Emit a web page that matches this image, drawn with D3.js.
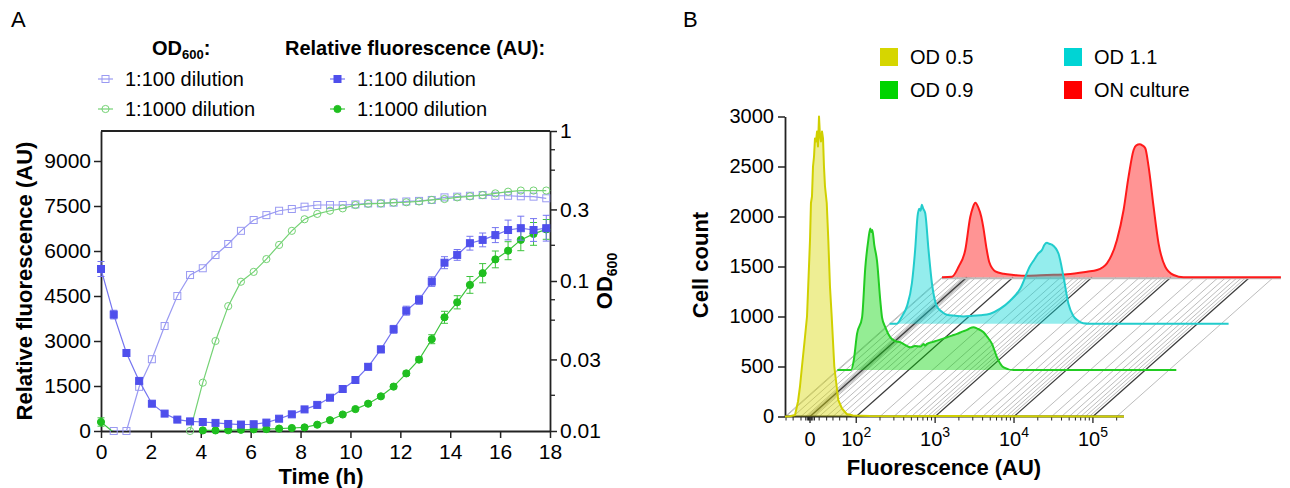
<!DOCTYPE html>
<html><head><meta charset="utf-8">
<script src="https://cdn.jsdelivr.net/npm/d3@7"></script>
<style>
body{margin:0;background:#fff}
svg text{font-family:"Liberation Sans",Arial,sans-serif;fill:#000}
</style>
</head><body>
<svg id="c" width="1290" height="488"></svg>
<script>
// ---------------- Panel A data ----------------
const timeH = [0,0.51,1.02,1.53,2.04,2.55,3.06,3.57,4.08,4.59,5.1,5.61,6.12,6.63,7.14,7.65,8.16,8.67,9.18,9.69,10.2,10.71,11.22,11.73,12.24,12.75,13.26,13.77,14.28,14.79,15.3,15.81,16.32,16.83,17.34,17.85];
const fluor100 = [5400,3880,2600,1670,910,580,380,320,300,270,235,215,225,280,410,555,720,870,1110,1400,1700,2140,2720,3390,4010,4370,4980,5610,5870,6260,6370,6530,6700,6760,6700,6760];
const fluor100Err = [250,145,60,50,50,40,40,40,40,40,40,40,40,40,40,50,50,60,60,70,80,100,110,130,150,150,160,200,180,230,230,250,330,400,380,430];
const fluor1000 = [300,-50,null,null,null,null,null,null,20,20,25,40,55,65,80,100,120,210,360,550,730,910,1155,1480,1920,2380,3060,3790,4290,4870,5260,5720,6010,6370,6570,6720];
const fluor1000Err = [140,0,null,null,null,null,null,null,20,20,20,20,20,20,20,20,30,30,40,40,40,50,50,60,70,90,150,200,220,280,320,280,300,360,380,330];
const od100 = [null,0.01,0.01,0.0197,0.0301,0.0501,0.0794,0.1096,0.1216,0.149,0.1765,0.216,0.255,0.275,0.294,0.302,0.313,0.321,0.321,0.321,0.324,0.329,0.329,0.333,0.339,0.342,0.347,0.361,0.365,0.37,0.374,0.37,0.37,0.367,0.365,0.356];
const od1000 = [null,null,null,null,null,null,null,0.01,0.021,0.0398,0.068,0.0989,0.115,0.14,0.174,0.216,0.258,0.28,0.294,0.305,0.321,0.327,0.329,0.333,0.335,0.339,0.347,0.352,0.361,0.367,0.374,0.384,0.394,0.401,0.401,0.401];
const timeTicks = [0,2,4,6,8,10,12,14,16,18];
const fluorTicks = [0,1500,3000,4500,6000,7500,9000];
const odTicks = [0.01,0.03,0.1,0.3,1];
const odMinorTicks = [0.0173,0.0548,0.075,0.173,0.548,0.75];
const legendA = ["1:100 dilution","1:1000 dilution"];

// ---------------- Panel B data (x in display decades: "0"=1.414, 10^2=2 ...) ----------------
const histOD05 = [[1.097,0],[1.160,3],[1.224,15],[1.262,150],[1.287,300],[1.312,500],[1.351,800],[1.376,1000],[1.401,1500],[1.414,1765],[1.426,2135],[1.439,2200],[1.452,2500],[1.465,2600],[1.477,2780],[1.490,2750],[1.503,2850],[1.515,2700],[1.528,3000],[1.541,2800],[1.553,2750],[1.566,2850],[1.579,2780],[1.591,2500],[1.604,2300],[1.626,2135],[1.646,1765],[1.667,1300],[1.689,1000],[1.722,500],[1.772,165],[1.819,80],[1.879,25],[1.959,10],[2.174,5],[2.554,3],[3.188,5],[3.822,3],[5.394,0]];
const histOD09 = [[1.097,0],[1.271,0],[1.305,95],[1.347,362],[1.411,528],[1.452,1028],[1.490,1300],[1.515,1416],[1.530,1380],[1.541,1400],[1.566,1250],[1.600,1095],[1.642,695],[1.664,528],[1.706,428],[1.769,328],[1.832,290],[1.896,278],[1.96,250],[2.022,228],[2.08,240],[2.149,235],[2.19,260],[2.21,245],[2.234,262],[2.30,280],[2.361,295],[2.42,310],[2.487,328],[2.55,345],[2.614,362],[2.68,385],[2.741,402],[2.78,420],[2.824,428],[2.87,415],[2.951,378],[3.0,330],[3.058,262],[3.121,128],[3.205,28],[3.331,0],[5.394,0]];
const histOD11 = [[1.097,0],[1.189,0],[1.253,73],[1.316,173],[1.380,407],[1.421,740],[1.451,1073],[1.472,1150],[1.49,1130],[1.506,1190],[1.523,1150],[1.548,1107],[1.590,740],[1.633,407],[1.696,173],[1.76,120],[1.823,90],[1.93,80],[2.034,73],[2.14,78],[2.245,85],[2.372,100],[2.499,150],[2.625,230],[2.752,350],[2.879,580],[2.93,640],[2.980,700],[3.03,740],[3.06,790],[3.091,810],[3.12,800],[3.154,790],[3.238,700],[3.301,470],[3.364,200],[3.424,80],[3.487,30],[3.551,5],[3.639,0],[5.394,0]];
const histON = [[1.098,0],[1.225,6],[1.309,106],[1.393,273],[1.457,606],[1.49,700],[1.520,746],[1.558,700],[1.596,606],[1.622,500],[1.660,300],[1.698,150],[1.774,60],[1.88,35],[2.006,23],[2.176,16],[2.429,23],[2.683,30],[2.936,56],[3.063,73],[3.189,140],[3.316,373],[3.400,673],[3.463,1006],[3.527,1273],[3.561,1320],[3.603,1330],[3.637,1320],[3.675,1290],[3.717,1106],[3.780,706],[3.843,340],[3.928,106],[4.034,23],[4.160,0],[5.394,0]];
const histNames = ["OD 0.5","OD 0.9","OD 1.1","ON culture"];
const countTicks = [0,500,1000,1500,2000,2500,3000];
const fluoMajorPos = [1.414,2,3,4,5];
const fluoMajorLabels = [["0",""],["10","2"],["10","3"],["10","4"],["10","5"]];
const fluoLinMinorPos = [1.11,1.20,1.30,1.36,1.38,1.395,1.405,1.425,1.435,1.45,1.47,1.53,1.625,1.705,1.79,1.88];
const fluoLogMinorVals = [200,300,400,500,600,700,800,900,2000,3000,4000,5000,6000,7000,8000,9000,20000,30000,40000,50000,60000,70000,80000,90000,200000];

// ---------------- styles ----------------
const C = {
  blue:"#4f4fec", blueLine:"#7474f0", blueLight:"#9a9af2",
  green:"#1fbf1f", greenLine:"#3cc43c", greenLight:"#74d274"
};
const histStroke = ["#d0d000","#22cc22","#22cccc","#ff1a1a"];
const histSwatch = ["#d6d600","#00d400","#00d4d4","#ff0000"];

const svg = d3.select("#c");

// =============== PANEL A ===============
const xA = d3.scaleLinear().domain([0,18]).range([101,550]);
const yA = d3.scaleLinear().domain([0,10000]).range([431,131]);
const yOD = d3.scaleLog().domain([0.01,1]).range([431,131]);

svg.append("text").attr("x",11).attr("y",27).attr("font-size",22).text("A");

svg.append("defs").append("clipPath").attr("id","clipA")
  .append("rect").attr("x",101).attr("y",120).attr("width",449).attr("height",311);

function styleAxis(g, fs){
  g.selectAll("text").attr("font-size",fs).attr("font-family","Liberation Sans, Arial, sans-serif").attr("fill","#000");
  g.selectAll("line").attr("stroke","#222").attr("stroke-width",1.5);
  g.select(".domain").attr("stroke","#222").attr("stroke-width",1.8);
}
const fmtInt = d3.format("d");

// frame top line
svg.append("line").attr("x1",xA(0)).attr("x2",xA(18)).attr("y1",yA(10000)).attr("y2",yA(10000))
  .attr("stroke","#222").attr("stroke-width",1.8);

const gxA = svg.append("g").attr("transform","translate(0,431)")
  .call(d3.axisBottom(xA).tickValues(timeTicks).tickFormat(fmtInt).tickSize(7).tickSizeOuter(0).tickPadding(6));
styleAxis(gxA,21);
const gyA = svg.append("g").attr("transform","translate(101,0)")
  .call(d3.axisLeft(yA).tickValues(fluorTicks).tickFormat(fmtInt).tickSize(7).tickSizeOuter(0).tickPadding(3));
styleAxis(gyA,21);
const gyOD = svg.append("g").attr("transform","translate(550,0)")
  .call(d3.axisRight(yOD).tickValues(odTicks).tickFormat(d=>String(d)).tickSize(7).tickSizeOuter(0).tickPadding(3));
styleAxis(gyOD,21);
svg.append("g").attr("transform","translate(550,0)")
  .selectAll("line").data(odMinorTicks).join("line")
  .attr("x1",0).attr("x2",5).attr("y1",d=>yOD(d)).attr("y2",d=>yOD(d))
  .attr("stroke","#222").attr("stroke-width",1.3);

svg.append("text").attr("x",321).attr("y",484).attr("text-anchor","middle")
  .attr("font-size",22).attr("font-weight","bold").text("Time (h)");
svg.append("text").attr("transform","translate(32,281) rotate(-90)").attr("text-anchor","middle")
  .attr("font-size",22).attr("font-weight","bold").text("Relative fluorescence (AU)");
const odT = svg.append("text").attr("transform","translate(612,281) rotate(-90)").attr("text-anchor","middle")
  .attr("font-size",22).attr("font-weight","bold");
odT.append("tspan").text("OD");
odT.append("tspan").attr("font-size",14).attr("dy",5).text("600");

const idx = d3.range(timeH.length);
function lineGen(vals, ys){
  return d3.line().defined(i=>vals[i]!=null).x(i=>xA(timeH[i])).y(i=>ys(vals[i]));
}
function drawMarkers(g, vals, ys, shape, fill, stroke){
  const pts = idx.filter(i=>vals[i]!=null && vals[i]>=ys.domain()[0]);
  if(shape==="square"){
    g.selectAll(null).data(pts).join("rect")
      .attr("x",i=>xA(timeH[i])-3.5).attr("y",i=>ys(vals[i])-3.5).attr("width",7).attr("height",7)
      .attr("fill",fill).attr("stroke",stroke).attr("stroke-width",1);
  } else {
    g.selectAll(null).data(pts).join("circle")
      .attr("cx",i=>xA(timeH[i])).attr("cy",i=>ys(vals[i])).attr("r",3.6)
      .attr("fill",fill).attr("stroke",stroke).attr("stroke-width",1);
  }
}
function drawErr(g, vals, errs, color){
  const pts = idx.filter(i=>vals[i]!=null && vals[i]>=0 && errs[i]>0);
  pts.forEach(i=>{
    const x = xA(timeH[i]), y1 = yA(vals[i]-errs[i]), y2 = yA(vals[i]+errs[i]);
    g.append("line").attr("x1",x).attr("x2",x).attr("y1",y1).attr("y2",y2).attr("stroke",color).attr("stroke-width",1);
    [y1,y2].forEach(y=>g.append("line").attr("x1",x-3.5).attr("x2",x+3.5).attr("y1",y).attr("y2",y).attr("stroke",color).attr("stroke-width",1));
  });
}
const plotA = svg.append("g");
// OD series (open markers)
plotA.append("path").attr("clip-path","url(#clipA)").attr("d",lineGen(od100,yOD)(idx)).attr("fill","none").attr("stroke",C.blueLight).attr("stroke-width",1.2);
drawMarkers(plotA.append("g"), od100, yOD, "square", "none", C.blueLight);
plotA.append("path").attr("clip-path","url(#clipA)").attr("d",lineGen(od1000,yOD)(idx)).attr("fill","none").attr("stroke",C.greenLight).attr("stroke-width",1.2);
drawMarkers(plotA.append("g"), od1000, yOD, "circle", "none", C.greenLight);
// fluorescence series (filled markers)
plotA.append("path").attr("clip-path","url(#clipA)").attr("d",lineGen(fluor1000,yA)(idx)).attr("fill","none").attr("stroke",C.greenLine).attr("stroke-width",1.2);
drawErr(plotA.append("g"), fluor1000, fluor1000Err, C.greenLine);
drawMarkers(plotA.append("g"), fluor1000, yA, "circle", C.green, C.green);
plotA.append("path").attr("clip-path","url(#clipA)").attr("d",lineGen(fluor100,yA)(idx)).attr("fill","none").attr("stroke",C.blueLine).attr("stroke-width",1.2);
drawErr(plotA.append("g"), fluor100, fluor100Err, C.blueLine);
drawMarkers(plotA.append("g"), fluor100, yA, "square", C.blue, C.blue);

// legend A
const h1 = svg.append("text").attr("x",152).attr("y",55).attr("font-size",20).attr("font-weight","bold");
h1.append("tspan").text("OD");
h1.append("tspan").attr("font-size",13).attr("dy",4).text("600");
h1.append("tspan").attr("dy",-4).text(":");
svg.append("text").attr("x",285).attr("y",55).attr("font-size",20).attr("font-weight","bold").text("Relative fluorescence (AU):");
const legItems = [
  {x:98, y:79, label:legendA[0], shape:"square", fill:"none", stroke:C.blueLight},
  {x:98, y:109, label:legendA[1], shape:"circle", fill:"none", stroke:C.greenLight},
  {x:330, y:79, label:legendA[0], shape:"square", fill:C.blue, stroke:C.blueLine},
  {x:330, y:109, label:legendA[1], shape:"circle", fill:C.green, stroke:C.greenLine}
];
legItems.forEach(it=>{
  svg.append("line").attr("x1",it.x).attr("x2",it.x+15).attr("y1",it.y).attr("y2",it.y).attr("stroke",it.stroke).attr("stroke-width",1.2);
  if(it.shape==="square") svg.append("rect").attr("x",it.x+4).attr("y",it.y-3.5).attr("width",7).attr("height",7).attr("fill",it.fill).attr("stroke",it.fill==="none"?it.stroke:it.fill);
  else svg.append("circle").attr("cx",it.x+7.5).attr("cy",it.y).attr("r",3.6).attr("fill",it.fill).attr("stroke",it.fill==="none"?it.stroke:it.fill);
  svg.append("text").attr("x",it.x+27).attr("y",it.y+7).attr("font-size",20).text(it.label);
});

// =============== PANEL B ===============
svg.append("text").attr("x",683).attr("y",27).attr("font-size",22).text("B");
const xB = d3.scaleLinear().domain([1.097,5.394]).range([785,1124]);
const yB = d3.scaleLinear().domain([0,3000]).range([416.5,116.5]);
const dX = 52.3, dY = -46.4;

// floor hatch lines
const allMinor = fluoLinMinorPos.concat(fluoLogMinorVals.map(v=>Math.log10(v)));
const floor = svg.append("g");
floor.selectAll(null).data(allMinor).join("line")
  .attr("x1",d=>xB(d)).attr("y1",yB(0)).attr("x2",d=>xB(d)+3*dX).attr("y2",yB(0)+3*dY)
  .attr("stroke","#b4b4b4").attr("stroke-width",0.9);
floor.selectAll(null).data(fluoMajorPos).join("line")
  .attr("x1",d=>xB(d)).attr("y1",yB(0)).attr("x2",d=>xB(d)+3*dX).attr("y2",yB(0)+3*dY)
  .attr("stroke","#3a3a3a").attr("stroke-width",1.2);
floor.append("line").attr("x1",xB(1.097)).attr("y1",yB(0)).attr("x2",xB(1.097)+3*dX).attr("y2",yB(0)+3*dY)
  .attr("stroke","#b4b4b4").attr("stroke-width",0.9);
floor.append("line").attr("x1",xB(1.097)+3*dX).attr("x2",xB(5.394)+3*dX).attr("y1",yB(0)+3*dY+1).attr("y2",yB(0)+3*dY+1)
  .attr("stroke","#bbbbbb").attr("stroke-width",2);

// axes B
const gyB = svg.append("g").attr("transform","translate(785,0)")
  .call(d3.axisLeft(yB).tickValues(countTicks).tickFormat(fmtInt).tickSize(7).tickSizeOuter(0).tickPadding(4));
styleAxis(gyB,20);
svg.append("line").attr("x1",785).attr("x2",1124).attr("y1",416.5).attr("y2",416.5).attr("stroke","#222").attr("stroke-width",1.8);
svg.append("g").selectAll(null).data(allMinor).join("line")
  .attr("x1",d=>xB(d)).attr("x2",d=>xB(d)).attr("y1",416.5).attr("y2",420.5).attr("stroke","#222").attr("stroke-width",1);
svg.append("g").selectAll(null).data(fluoMajorPos).join("line")
  .attr("x1",d=>xB(d)).attr("x2",d=>xB(d)).attr("y1",416.5).attr("y2",423).attr("stroke","#222").attr("stroke-width",1.3);
fluoMajorPos.forEach((p,i)=>{
  const t = svg.append("text").attr("x",xB(p)).attr("y",446).attr("text-anchor","middle").attr("font-size",20);
  t.append("tspan").text(fluoMajorLabels[i][0]);
  if(fluoMajorLabels[i][1]) t.append("tspan").attr("font-size",14).attr("dy",-9).text(fluoMajorLabels[i][1]);
});
svg.append("text").attr("x",944).attr("y",475).attr("text-anchor","middle").attr("font-size",22).attr("font-weight","bold").text("Fluorescence (AU)");
svg.append("text").attr("transform","translate(708,265) rotate(-90)").attr("text-anchor","middle").attr("font-size",22).attr("font-weight","bold").text("Cell count");

// histograms back to front
const hists = [histOD05,histOD09,histOD11,histON];
[3,2,1,0].forEach(k=>{
  const data = hists[k];
  const area = d3.area().curve(k===0?d3.curveLinear:d3.curveMonotoneX)
    .x(d=>xB(d[0])+k*dX).y0(yB(0)+k*dY).y1(d=>yB(d[1])+k*dY);
  const line = d3.line().curve(k===0?d3.curveLinear:d3.curveMonotoneX)
    .x(d=>xB(d[0])+k*dX).y(d=>yB(d[1])+k*dY);
  svg.append("path").attr("d",area(data)).attr("fill",histSwatch[k]).attr("fill-opacity",0.42).attr("stroke","none");
  svg.append("path").attr("d",line(data)).attr("fill","none").attr("stroke",histStroke[k]).attr("stroke-width",2).attr("stroke-linejoin","round");
});

// legend B
const legB = [{x:880,y:48},{x:880,y:81},{x:1064,y:48},{x:1064,y:81}];
legB.forEach((p,i)=>{
  svg.append("rect").attr("x",p.x).attr("y",p.y).attr("width",18).attr("height",18).attr("fill",histSwatch[i]);
  svg.append("text").attr("x",p.x+30).attr("y",p.y+16).attr("font-size",20).text(histNames[i]);
});
</script>
</body></html>
